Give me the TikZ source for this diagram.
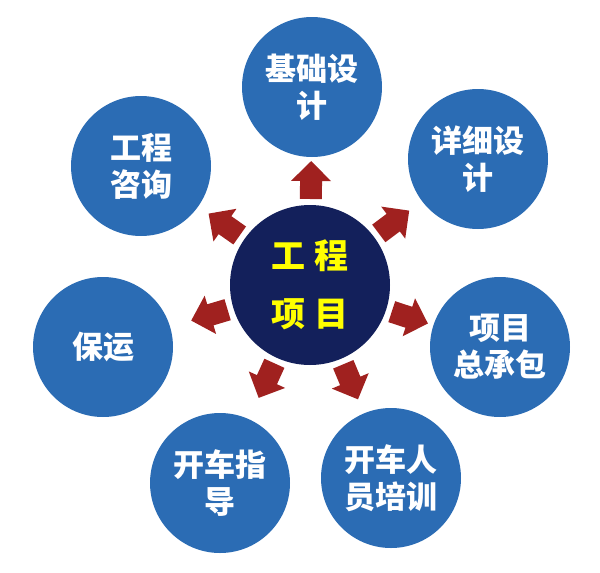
\documentclass[tikz,border=0pt]{standalone}
\usepackage{fontspec}
\newfontfamily\cjk{Noto Sans CJK SC}
\usetikzlibrary{calc}
\definecolor{outerblue}{HTML}{2B6CB4}
\definecolor{navy}{HTML}{13205B}
\definecolor{arrowred}{HTML}{A0211F}
\definecolor{hiyellow}{HTML}{FFFF00}
\tikzset{
  outer/.style={circle, fill=outerblue, minimum size=140pt, inner sep=0pt, align=center,
    text=white, font=\cjk\bfseries\fontsize{31}{37}\selectfont},
  hub/.style={circle, fill=navy, minimum size=160pt, inner sep=0pt, align=center,
    text=hiyellow, font=\cjk\bfseries\fontsize{34}{58}\selectfont},
  blockarrow/.style={fill=arrowred}
}
\newcommand\outarrow[2]{%
  \path ($(c)!86pt!(#1)$) coordinate (#2s)
        ($(c)!104pt!(#1)$) coordinate (#2h)
        ($(c)!124pt!(#1)$) coordinate (#2t);
  \fill[blockarrow] ($(#2s)!11pt!90:(#1)$) -- ($(#2h)!11pt!90:(#1)$) -- ($(#2h)!20pt!90:(#1)$)
     -- (#2t) -- ($(#2h)!20pt!-90:(#1)$) -- ($(#2h)!11pt!-90:(#1)$) -- ($(#2s)!11pt!-90:(#1)$) -- cycle;
}
\begin{document}
\begin{tikzpicture}[x=1pt, y=-1pt]
\useasboundingbox (0,0) rectangle (600,573);
\node[hub] (c) at (310,285) {工\hspace{0.25em}程\\项\hspace{0.25em}目};
\node[outer] (a) at (312,87) {基础设\\计};
\node[outer] (b) at (478,159) {详细设\\计};
\node[outer] (p) at (500,347) {项目\\总承包};
\node[outer] (d) at (391,478) {开车人\\员培训};
\node[outer] (e) at (220,483) {开车指\\导};
\node[outer] (f) at (103,347) {保运};
\node[outer] (g) at (141,166) {工程\\咨询};
\outarrow{a}{ra}
\outarrow{b}{rb}
\outarrow{p}{rp}
\outarrow{d}{rd}
\outarrow{e}{re}
\outarrow{f}{rf}
\outarrow{g}{rg}
\end{tikzpicture}
\end{document}
